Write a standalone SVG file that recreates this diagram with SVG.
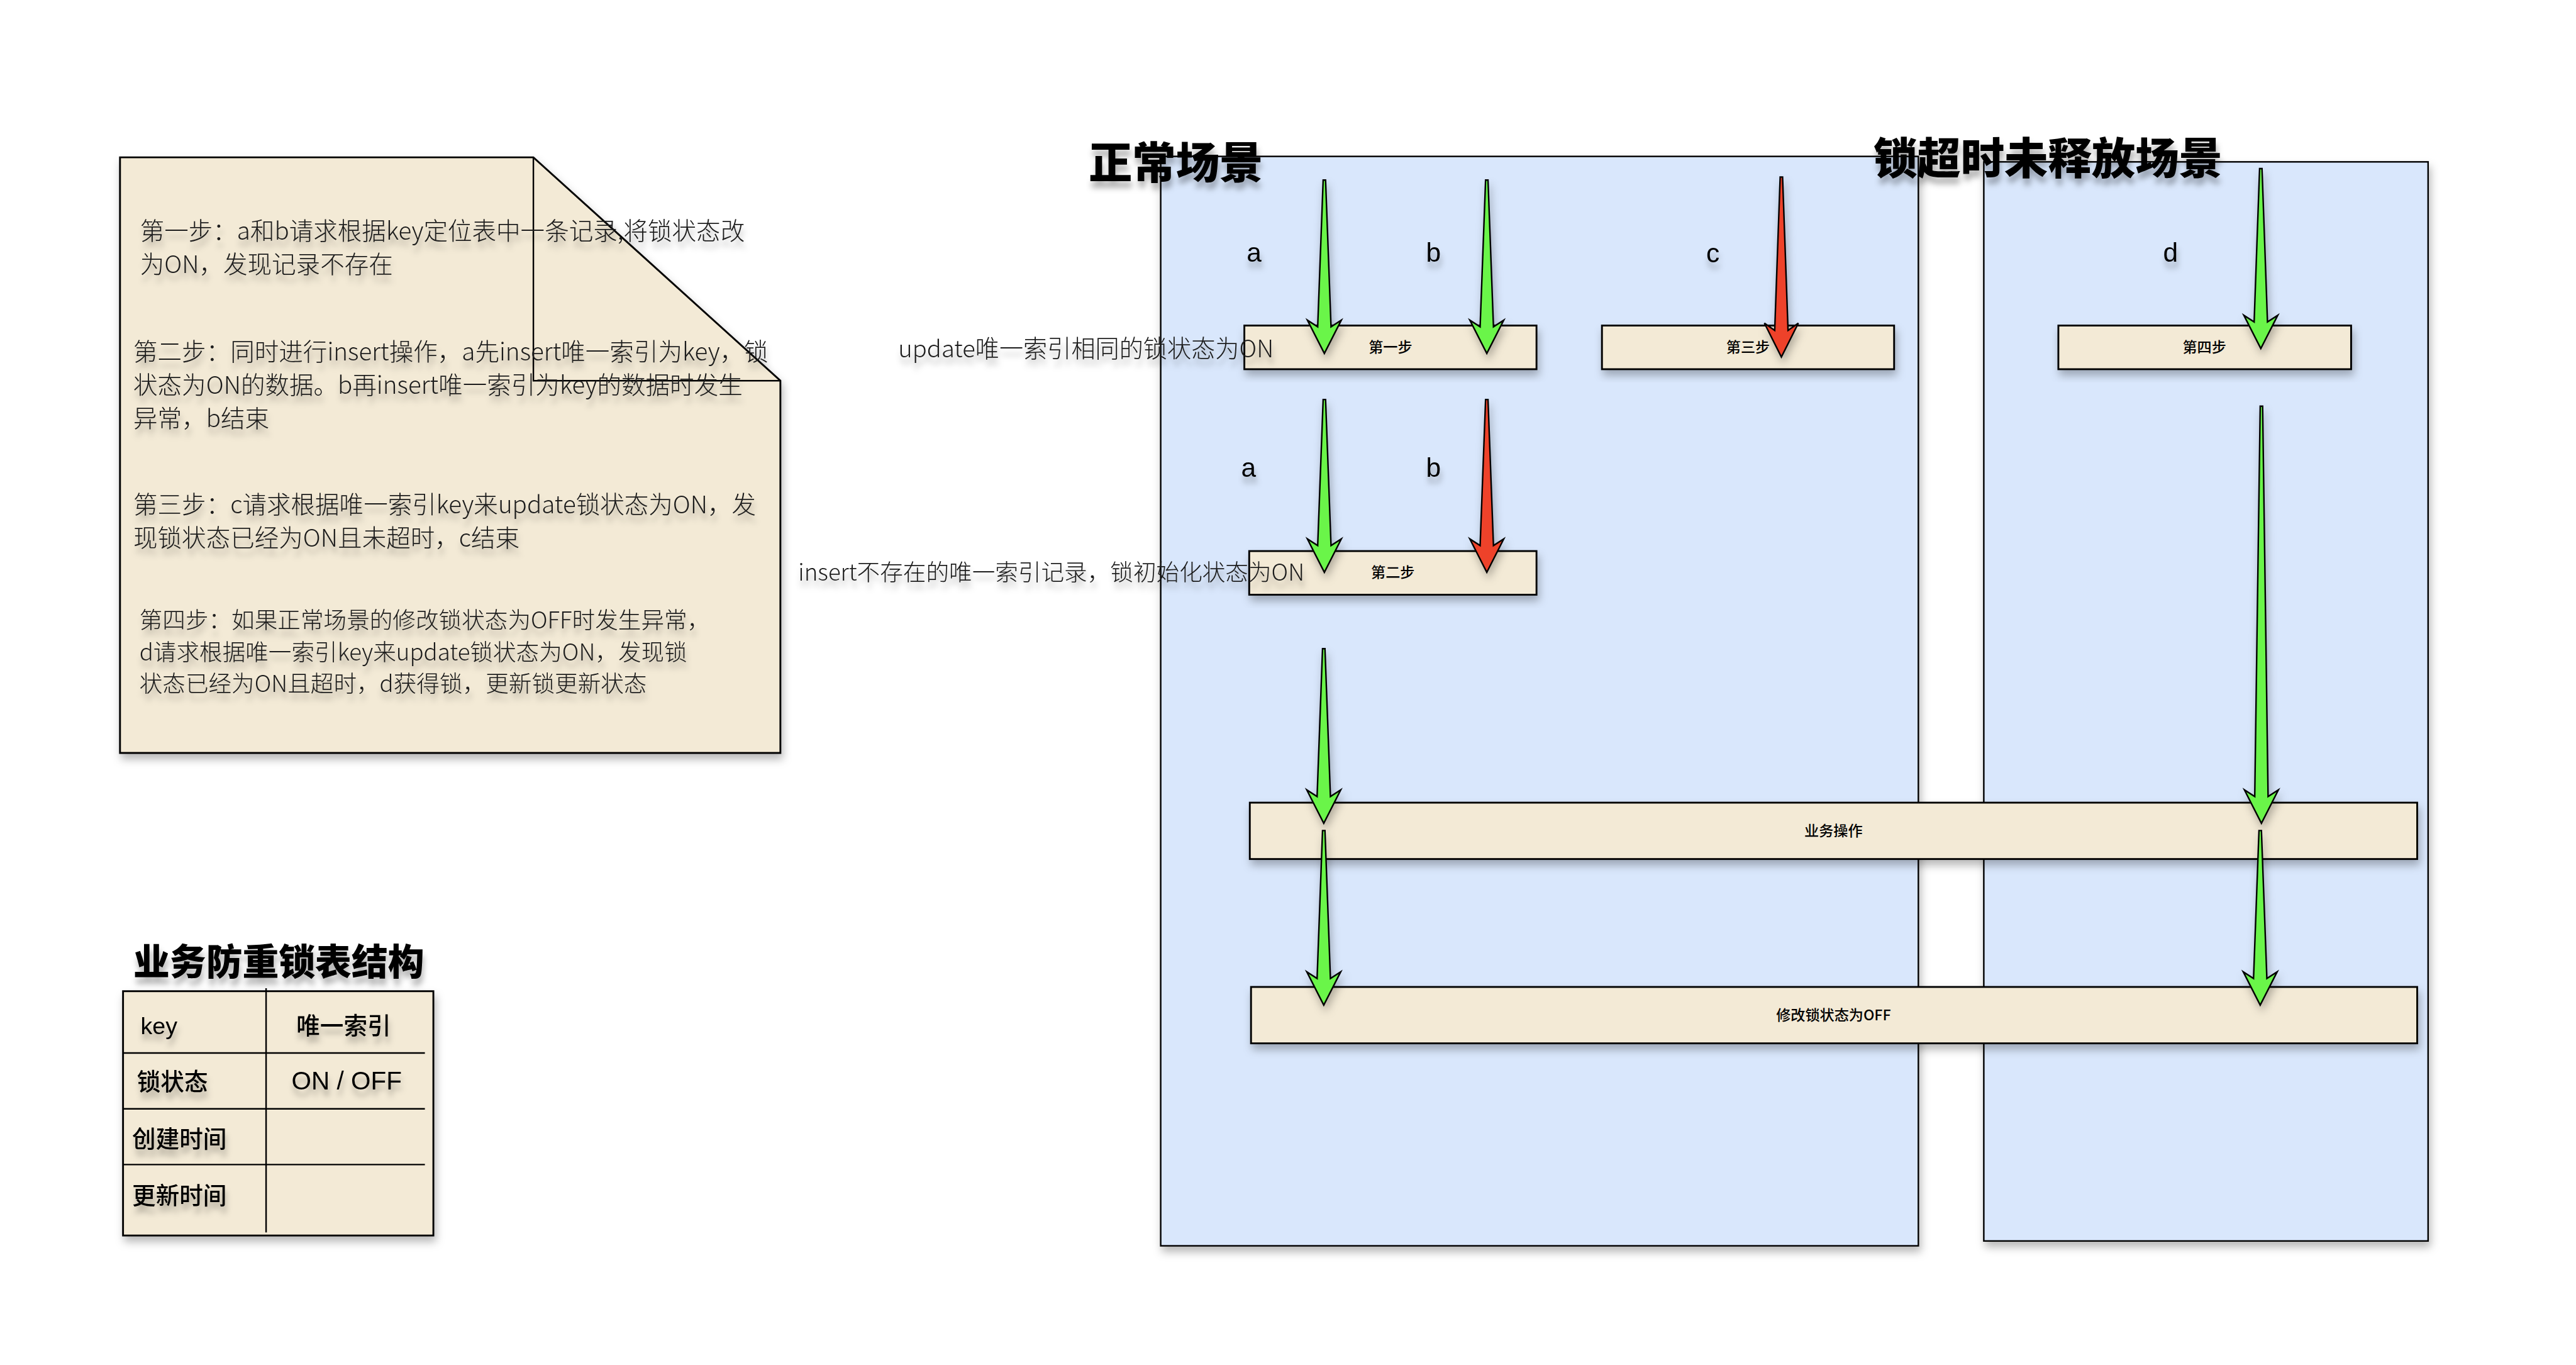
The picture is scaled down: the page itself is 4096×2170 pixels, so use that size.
<svg xmlns="http://www.w3.org/2000/svg" width="4096" height="2170" viewBox="0 0 4096 2170">
<defs>
<filter id="sh" x="-10%" y="-10%" width="130%" height="140%">
<feDropShadow dx="3" dy="9" stdDeviation="7" flood-color="#000" flood-opacity="0.28"/>
</filter>
<filter id="tsh" x="-10%" y="-30%" width="130%" height="190%">
<feDropShadow dx="2" dy="11" stdDeviation="5" flood-color="#000" flood-opacity="0.3"/>
</filter>
<style>
.cont{fill:#d9e7fc;stroke:#000;stroke-width:2.5}
.box{fill:#f3ead6;stroke:#000;stroke-width:3}
.ln{fill:none;stroke:#000;stroke-width:2.5}
.g{fill:#6af54a;stroke:#000;stroke-width:2.5;stroke-linejoin:miter}
.r{fill:#ee4329;stroke:#000;stroke-width:2.5;stroke-linejoin:miter}
.nt{font-family:"Noto Sans CJK SC",sans-serif;font-size:40px;font-weight:300;fill:#1a1a1a}
.nt4{font-size:38px}
.lbl{font-family:"Noto Sans CJK SC",sans-serif;font-size:38px;font-weight:300;fill:#1a1a1a}
.lbl2{font-size:39.6px}
.h{font-family:"Noto Sans CJK SC",sans-serif;font-weight:900;fill:#000}
.bl{font-family:"Noto Sans CJK SC",sans-serif;font-size:24px;font-weight:500;fill:#000;text-anchor:middle}
.ab{font-family:"Liberation Sans",Arial,sans-serif;font-size:44px;fill:#000;text-anchor:middle}
.tb{font-family:"Liberation Sans","Noto Sans CJK SC",sans-serif;font-size:39px;font-weight:500;fill:#000}
.tb2{font-size:42px}
</style>
</defs>
<g transform="scale(0.96376)">
<g id="container-normal"><rect class="cont" x="1915" y="258" width="1250" height="1797" filter="url(#sh)"/></g>
<g id="container-timeout"><rect class="cont" x="3273" y="267" width="733" height="1780" filter="url(#sh)"/></g>

<g id="note">
<path class="box" d="M198,259.5 L880,259.5 L1287.5,628 L1287.5,1242 L198,1242 Z" filter="url(#sh)"/>
<path class="ln" d="M880,259.5 L880,628 L1287.5,628"/>
<g filter="url(#tsh)">
<text class="nt" x="231" y="395">第一步：a和b请求根据key定位表中一条记录,将锁状态改</text>
<text class="nt" x="231" y="450">为ON，发现记录不存在</text>
<text class="nt" x="220" y="595">第二步：同时进行insert操作，a先insert唯一索引为key，锁</text>
<text class="nt" x="220" y="650">状态为ON的数据。b再insert唯一索引为key的数据时发生</text>
<text class="nt" x="220" y="705">异常，b结束</text>
<text class="nt" x="220" y="847">第三步：c请求根据唯一索引key来update锁状态为ON，发</text>
<text class="nt" x="220" y="902">现锁状态已经为ON且未超时，c结束</text>
<text class="nt nt4" x="230" y="1037">第四步：如果正常场景的修改锁状态为OFF时发生异常，</text>
<text class="nt nt4" x="230" y="1089">d请求根据唯一索引key来update锁状态为ON，发现锁</text>
<text class="nt nt4" x="230" y="1141">状态已经为ON且超时，d获得锁，更新锁更新状态</text>
</g>
</g>

<g id="table">
<rect class="box" x="203" y="1635" width="512" height="403" filter="url(#sh)"/>
<path class="ln" d="M439,1630 L439,2033 M203,1737 L701,1737 M203,1829 L701,1829 M203,1921 L701,1921"/>
<g filter="url(#tsh)">
<text class="tb" x="232" y="1706">key</text>
<text class="tb" x="489" y="1706">唯一索引</text>
<text class="tb" x="226" y="1798">锁状态</text>
<text class="tb tb2" x="481" y="1797">ON / OFF</text>
<text class="tb" x="218" y="1893">创建时间</text>
<text class="tb" x="218" y="1986">更新时间</text>
</g>
</g>

<g id="step1"><rect class="box" x="2053" y="537" width="482" height="72" filter="url(#sh)"/><text class="bl" x="2294" y="581">第一步</text></g>
<g id="step3"><rect class="box" x="2643" y="537" width="482" height="72" filter="url(#sh)"/><text class="bl" x="2884" y="581">第三步</text></g>
<g id="step2"><rect class="box" x="2061" y="909" width="474" height="72" filter="url(#sh)"/><text class="bl" x="2298" y="953">第二步</text></g>
<g id="step4"><rect class="box" x="3396" y="537" width="483" height="72" filter="url(#sh)"/><text class="bl" x="3637" y="581">第四步</text></g>
<g id="business"><rect class="box" x="2062" y="1324" width="1926" height="93" filter="url(#sh)"/><text class="bl" x="3025" y="1379">业务操作</text></g>
<g id="set-off"><rect class="box" x="2064" y="1628" width="1924" height="93" filter="url(#sh)"/><text class="bl" x="3025" y="1683">修改锁状态为OFF</text></g>

<g id="connectors" filter="url(#sh)">
<path class="g" d="M2183,297 L2187,297 L2196,539 L2213,528 L2185,583 L2157,528 L2174,539 Z"/>
<path class="g" d="M2451,297 L2455,297 L2464,539 L2481,528 L2453,583 L2425,528 L2442,539 Z"/>
<path class="r" d="M2937,292 L2941,292 L2950,545 L2967,533 L2939,589 L2911,533 L2928,545 Z"/>
<path class="g" d="M2183,659 L2187,659 L2196,900 L2213,889 L2185,944 L2157,889 L2174,900 Z"/>
<path class="r" d="M2451,659 L2455,659 L2464,900 L2481,889 L2453,944 L2425,889 L2442,900 Z"/>
<path class="g" d="M3728,278 L3732,278 L3741,531 L3758,520 L3730,575 L3702,520 L3719,531 Z"/>
<path class="g" d="M2182,1070 L2186,1070 L2195,1314 L2212,1303 L2184,1358 L2156,1303 L2173,1314 Z"/>
<path class="g" d="M3729,670 L3733,670 L3742,1314 L3759,1303 L3731,1358 L3703,1303 L3720,1314 Z"/>
<path class="g" d="M2182,1370 L2186,1370 L2195,1614 L2212,1603 L2184,1658 L2156,1603 L2173,1614 Z"/>
<path class="g" d="M3727,1370 L3731,1370 L3740,1614 L3757,1603 L3729,1658 L3701,1603 L3718,1614 Z"/>
</g>

<g id="labels" filter="url(#tsh)">
<text class="ab" x="2069" y="432">a</text>
<text class="ab" x="2365" y="432">b</text>
<text class="ab" x="2826" y="433">c</text>
<text class="ab" x="2060" y="787">a</text>
<text class="ab" x="2365" y="787">b</text>
<text class="ab" x="3581" y="432">d</text>
<text class="lbl lbl2" x="1482" y="589">update唯一索引相同的锁状态为ON</text>
<text class="lbl" x="1317" y="958">insert不存在的唯一索引记录，锁初始化状态为ON</text>
</g>

<g id="titles" filter="url(#tsh)">
<text class="h" x="1796" y="295" font-size="72">正常场景</text>
<text class="h" x="3091" y="287" font-size="72">锁超时未释放场景</text>
<text class="h" x="220" y="1608" font-size="60">业务防重锁表结构</text>
</g>
</g>
</svg>
